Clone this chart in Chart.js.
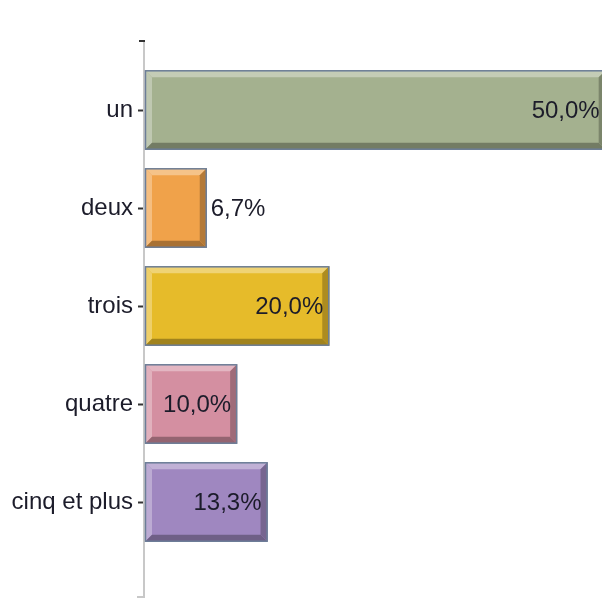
<!DOCTYPE html>
<html>
<head>
<meta charset="utf-8">
<script src="https://cdn.jsdelivr.net/npm/chart.js@4"></script>
<style>
  html, body { margin: 0; padding: 0; background: #fff; }
  #chart { display: block; }
</style>
</head>
<body>
<canvas id="chart" width="602" height="599"></canvas>
<script>
const categories = ["un", "deux", "trois", "quatre", "cinq et plus"];
const values = [50.0, 6.7, 20.0, 10.0, 13.3];
const barColors = ["#a4b18f", "#f0a24a", "#e6bb2a", "#d48fa1", "#9f87c0"];
const xMax = 49.6;

function shade(hex, amt) {
  const n = parseInt(hex.slice(1), 16);
  let r = (n >> 16) & 255, g = (n >> 8) & 255, b = n & 255;
  const f = (c) => Math.round(amt >= 0 ? c + (255 - c) * amt : c * (1 + amt));
  return `rgb(${f(r)},${f(g)},${f(b)})`;
}

const bevelPlugin = {
  id: "bevel",
  beforeDatasetsDraw(chart) {
    // vertical category axis line, extended past the category band
    const ctx = chart.ctx;
    const area = chart.chartArea;
    const top = area.top - 21, bottom = area.bottom + 47;
    ctx.save();
    ctx.strokeStyle = "#c8c8c8";
    ctx.lineWidth = 2;
    ctx.beginPath();
    ctx.moveTo(area.left - 1, top);
    ctx.lineTo(area.left - 1, bottom);
    ctx.stroke();
    ctx.strokeStyle = "#333";
    ctx.beginPath();
    ctx.moveTo(area.left - 6, top + 1);
    ctx.lineTo(area.left, top + 1);
    ctx.stroke();
    ctx.strokeStyle = "#c8c8c8";
    ctx.beginPath();
    ctx.moveTo(area.left - 8, bottom - 1);
    ctx.lineTo(area.left, bottom - 1);
    ctx.stroke();
    ctx.restore();
  },
  afterDatasetsDraw(chart) {
    const ctx = chart.ctx;
    const meta = chart.getDatasetMeta(0);
    const bw = 7;
    meta.data.forEach((bar, i) => {
      const { x, y, base, height } = bar.getProps(["x", "y", "base", "height"], true);
      const l = base, r = x, t = y - height / 2, b = y + height / 2;
      const c = barColors[i];
      ctx.save();
      ctx.fillStyle = shade(c, 0.35);
      ctx.beginPath();
      ctx.moveTo(l, t); ctx.lineTo(r, t); ctx.lineTo(r - bw, t + bw); ctx.lineTo(l + bw, t + bw);
      ctx.fill();
      ctx.fillStyle = shade(c, 0.3);
      ctx.beginPath();
      ctx.moveTo(l, t); ctx.lineTo(l + bw, t + bw); ctx.lineTo(l + bw, b - bw); ctx.lineTo(l, b);
      ctx.fill();
      ctx.fillStyle = shade(c, -0.3);
      ctx.beginPath();
      ctx.moveTo(l, b); ctx.lineTo(l + bw, b - bw); ctx.lineTo(r - bw, b - bw); ctx.lineTo(r, b);
      ctx.fill();
      ctx.fillStyle = shade(c, -0.25);
      ctx.beginPath();
      ctx.moveTo(r, t); ctx.lineTo(r, b); ctx.lineTo(r - bw, b - bw); ctx.lineTo(r - bw, t + bw);
      ctx.fill();
      ctx.strokeStyle = "#6c7e98";
      ctx.lineWidth = 1.5;
      ctx.strokeRect(l + 0.5, t + 0.5, r - l - 1, b - t - 1);

      const txt = values[i].toFixed(1).replace(".", ",") + "%";
      ctx.font = "24px 'Liberation Sans', Arial, sans-serif";
      ctx.fillStyle = "#1c1c2a";
      ctx.textBaseline = "middle";
      const w = ctx.measureText(txt).width;
      if (w + 12 < r - l) {
        ctx.textAlign = "right";
        ctx.fillText(txt, r - 6, y + 1);
      } else {
        ctx.textAlign = "left";
        ctx.fillText(txt, r + 4, y + 1);
      }
      ctx.restore();
    });
  }
};

new Chart(document.getElementById("chart"), {
  type: "bar",
  data: {
    labels: categories,
    datasets: [{
      data: values,
      backgroundColor: barColors,
      borderWidth: 0,
      barPercentage: 0.81,
      categoryPercentage: 1.0
    }]
  },
  options: {
    indexAxis: "y",
    responsive: false,
    animation: false,
    layout: { padding: { top: 61, bottom: 48, left: 0, right: 0 } },
    plugins: { legend: { display: false }, tooltip: { enabled: false } },
    scales: {
      x: { display: false, min: 0, max: xMax },
      y: {
        afterFit: (scale) => { scale.width = 145; },
        border: { display: false },
        grid: {
          offset: false,
          drawOnChartArea: false,
          tickLength: 7,
          tickWidth: 2,
          tickColor: "#333"
        },
        ticks: {
          color: "#1c1c2a",
          padding: 5,
          font: { family: "'Liberation Sans', Arial, sans-serif", size: 24 }
        }
      }
    }
  },
  plugins: [bevelPlugin]
});
</script>
</body>
</html>
